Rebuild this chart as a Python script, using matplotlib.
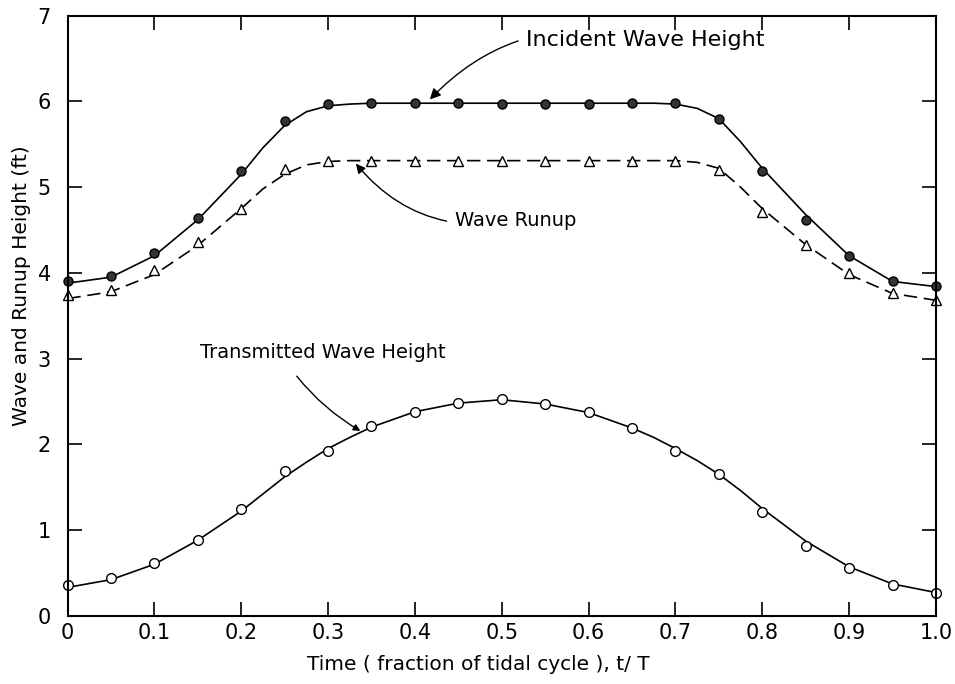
import matplotlib.pyplot as plt

t = [0.0, 0.05, 0.1, 0.15, 0.2, 0.25, 0.3, 0.35, 0.4, 0.45, 0.5,
     0.55, 0.6, 0.65, 0.7, 0.75, 0.8, 0.85, 0.9, 0.95, 1.0]

incidente = [3.90, 3.96, 4.23, 4.64, 5.19, 5.77, 5.97, 5.98, 5.98, 5.98, 5.97,
             5.97, 5.97, 5.98, 5.98, 5.80, 5.19, 4.62, 4.20, 3.91, 3.85]
runup = [3.74, 3.80, 4.03, 4.36, 4.75, 5.21, 5.30, 5.31, 5.31, 5.31, 5.31,
         5.31, 5.31, 5.31, 5.31, 5.20, 4.71, 4.33, 4.00, 3.76, 3.68]
transmitida = [0.36, 0.44, 0.62, 0.88, 1.24, 1.69, 1.92, 2.21, 2.38, 2.48, 2.53,
               2.47, 2.38, 2.19, 1.92, 1.65, 1.21, 0.81, 0.56, 0.36, 0.27]

t_curva = [0.0, 0.05, 0.1, 0.15, 0.2, 0.225, 0.25, 0.275, 0.3, 0.325, 0.35, 0.4,
           0.45, 0.5, 0.55, 0.6, 0.65, 0.675, 0.7, 0.725, 0.75, 0.775, 0.8,
           0.85, 0.9, 0.95, 1.0]
incidente_curva = [3.88, 3.95, 4.20, 4.62, 5.15, 5.46, 5.72, 5.88, 5.95, 5.97, 5.98, 5.98,
                   5.98, 5.98, 5.98, 5.98, 5.98, 5.98, 5.97, 5.92, 5.80, 5.53, 5.22,
                   4.68, 4.20, 3.90, 3.84]
runup_curva = [3.70, 3.78, 3.98, 4.32, 4.75, 4.98, 5.15, 5.26, 5.30, 5.31, 5.31, 5.31,
               5.31, 5.31, 5.31, 5.31, 5.31, 5.31, 5.31, 5.29, 5.22, 5.00, 4.75,
               4.33, 3.98, 3.76, 3.68]
transmitida_curva = [0.33, 0.42, 0.60, 0.88, 1.22, 1.42, 1.62, 1.79, 1.95, 2.08, 2.20, 2.38,
                     2.48, 2.52, 2.47, 2.37, 2.19, 2.08, 1.95, 1.81, 1.65, 1.46, 1.25,
                     0.87, 0.57, 0.37, 0.27]

xticks = [0, 0.1, 0.2, 0.3, 0.4, 0.5, 0.6, 0.7, 0.8, 0.9, 1.0]
xlabels = ["0", "0.1", "0.2", "0.3", "0.4", "0.5", "0.6", "0.7", "0.8", "0.9", "1.0"]
yticks = [0, 1, 2, 3, 4, 5, 6, 7]

fig = plt.figure(figsize=(9.55, 6.84), dpi=100)
ax = fig.add_axes([0.0707, 0.0999, 0.9094, 0.877])

# curvas
ax.plot(t_curva, incidente_curva, color="black", lw=1.2)
ax.plot(t_curva, runup_curva, color="black", lw=1.2, dashes=(8, 4))
ax.plot(t_curva, transmitida_curva, color="black", lw=1.2)

# puntos
ax.plot(t, incidente, "o", color="black", ms=6.5, mfc="#333333", mec="black", clip_on=False)
ax.plot(t, runup, "^", color="black", ms=6.5, mfc="white", mec="black", clip_on=False)
ax.plot(t, transmitida, "o", color="black", ms=7, mfc="white", mec="black", clip_on=False)

ax.set_xlim(0, 1.0)
ax.set_ylim(0, 7)
ax.set_xticks(xticks)
ax.set_xticklabels(xlabels)
ax.set_yticks(yticks)
ax.tick_params(direction="in", length=10, width=1.2, top=True, right=True,
               labelsize=15)
ax.tick_params(axis="x", pad=5)
ax.tick_params(axis="y", pad=12)
for s in ax.spines.values():
    s.set_linewidth(1.5)

ax.set_xlabel("Time ( fraction of tidal cycle ), t/ T", fontsize=14.5)
ax.xaxis.set_label_coords(0.473, -0.065)
ax.set_ylabel("Wave and Runup Height (ft)", fontsize=14.5)
ax.yaxis.set_label_coords(-0.042, 0.55)

# anotaciones
ax.annotate("Incident Wave Height", xy=(0.415, 6.0), xytext=(0.528, 6.72),
            fontsize=16, va="center",
            arrowprops=dict(arrowstyle="-|>", color="black", lw=1,
                            connectionstyle="arc3,rad=0.3", shrinkA=4))
ax.annotate("Wave Runup", xy=(0.33, 5.3), xytext=(0.446, 4.61),
            fontsize=14, va="center",
            arrowprops=dict(arrowstyle="-|>", color="black", lw=1,
                            connectionstyle="arc3,rad=-0.3", shrinkA=4))
ax.annotate("Transmitted Wave Height", xy=(0.34, 2.14), xytext=(0.153, 3.07),
            fontsize=14, va="center")
ax.annotate("", xy=(0.34, 2.14), xytext=(0.262, 2.82),
            arrowprops=dict(arrowstyle="-|>", color="black", lw=1,
                            connectionstyle="arc3,rad=0.1"))

fig.savefig("out.png", dpi=100)
